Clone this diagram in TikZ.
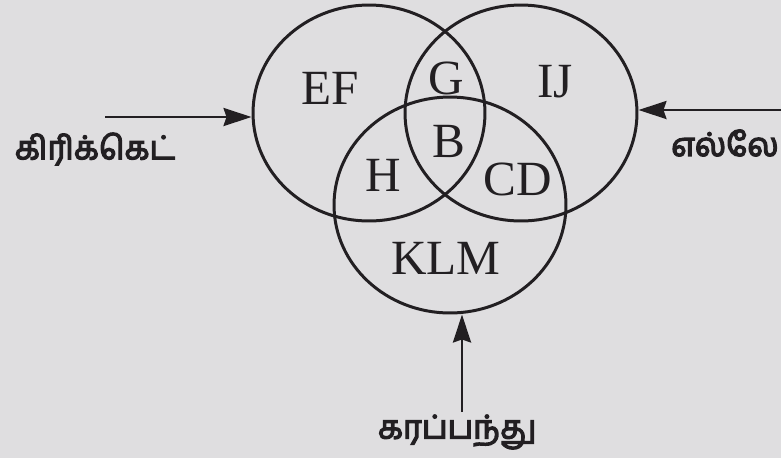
\documentclass[tikz,border=0pt]{standalone}
\usepackage{fontspec}
\setmainfont{Liberation Serif}
\newfontfamily\tamilfont[Script=Tamil, AutoFakeBold=4]{Hind Madurai}
\usepackage{tikz}
\usetikzlibrary{shapes.geometric, arrows.meta, positioning}
\definecolor{paperGray}{RGB}{223, 222, 224}
\definecolor{inkDark}{RGB}{34, 31, 34}

\begin{document}
\begin{tikzpicture}[
    x=0.02cm, y=-0.02cm,
    set/.style={
        ellipse,
        draw=inkDark,
        line width=1.7pt,
        inner sep=0pt,
        minimum width=4.64cm,
        minimum height=4.32cm
    },
    region/.style={
        font=\fontsize{28}{30}\selectfont,
        text=inkDark,
        inner sep=0pt
    },
    game/.style={
        font=\tamilfont\bfseries\fontsize{18.5}{22}\selectfont,
        text=inkDark,
        inner sep=0pt
    },
    pointer/.style={
        draw=inkDark,
        line width=1.5pt,
        -{Stealth[length=5.6mm, width=3.6mm, inset=0.6mm]}
    }
]

% Paper
\fill[paperGray] (0,0) rectangle (781,458);
\useasboundingbox (0,0) rectangle (781,458);

% Sets
\node[set] (cricket) at (369,113) {};
\node[set] (elle) at (521,113) {};
\node[set] (volley) at (450,205) {};

% Regions
\node[region] (ef) at (330,88) {EF};
\node[region] (g) at (446,78) {G};
\node[region] (ij) at (555,82) {IJ};
\node[region] (b) at (449,141) {B};
\node[region] (h) at (383,175) {H};
\node[region] (cd) at (518,179) {CD};
\node[region] (klm) at (446,258) {KLM};

% Games
\node[game] (cricketlabel) at (95,149) {கிரிக்கெட்};
\node[game, anchor=east] (ellelabel) at (779,143) {எல்லே};
\node[game] (volleylabel) at (457,432) {கரப்பந்து};

% Pointers
\coordinate (cricketfrom) at (105,117);
\coordinate (ellefrom) at (800,110);
\coordinate (volleyfrom) at (462,412);
\draw[pointer] (cricketfrom) -- (cricketfrom -| cricket.west);
\draw[pointer] (ellefrom) -- (ellefrom -| elle.east);
\draw[pointer] (volleyfrom) -- (volleyfrom |- volley.south);

\end{tikzpicture}
\end{document}
